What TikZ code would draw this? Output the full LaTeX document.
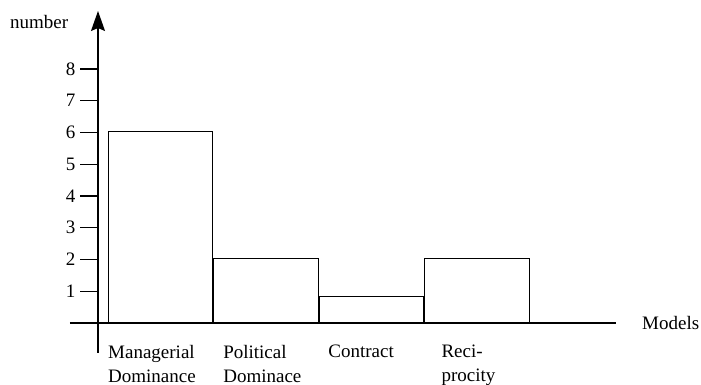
\documentclass[tikz,border=0pt]{standalone}
\usepackage{fontspec}
\setmainfont{Liberation Serif}
\usetikzlibrary{arrows.meta, positioning}
\tikzstyle{barra} = [draw, line width=1.1pt, rectangle, inner sep=0pt, anchor=south west, minimum width=104pt]
\tikzstyle{etiqueta} = [inner sep=0pt, align=left, anchor=north west, font=\fontsize{19}{24}\selectfont]
\tikzstyle{eje} = [line width=1.4pt]

\begin{document}
\begin{tikzpicture}[x=1pt, y=1pt]
	\useasboundingbox (-98,-62) rectangle (603,323);
	% ejes
	\coordinate (o) at (0,0);
	\coordinate (xini) at (-28,0);
	\coordinate (xfin) at (518,0);
	\coordinate (yini) at (0,-30);
	\coordinate (yfin) at (0,312);
	\draw[eje] (xini) -- (xfin);
	\draw[eje, -{Stealth[length=20pt, width=14pt, inset=3pt]}] (yini) -- (yfin);
	\foreach \n in {1,...,8}
		\draw[line width=1.1pt] (-18,\n*31.75) -- (0,\n*31.75) node[etiqueta, anchor=east, xshift=-22pt] (t\n) {\n};
	\node[etiqueta, anchor=west] (numero) at (-88,301) {number};
	\node[etiqueta, anchor=west] (modelos) at (544,0) {Models};
	% barras
	\node[barra, minimum height=6*31.75pt] (manag) at (10,0) {};
	\node[barra, minimum height=2*31.75pt, minimum width=105pt] (polit) at (manag.south east) {};
	\node[barra, minimum height=0.82*31.75pt] (contr) at (polit.south east) {};
	\node[barra, minimum height=2*31.75pt, minimum width=105pt] (recip) at (contr.south east) {};
	\node[etiqueta, below=22pt of manag.south west, anchor=north west] (lmanag) {Managerial\\Dominance};
	\node[etiqueta, below=22pt of polit.south west, anchor=north west, xshift=10pt] (lpolit) {Political\\Dominace};
	\node[etiqueta, below=22pt of contr.south west, anchor=north west, xshift=9pt] (lcontr) {Contract};
	\node[etiqueta, below=22pt of recip.south west, anchor=north west, xshift=17pt] (lrecip) {Reci-\\procity};
\end{tikzpicture}
\end{document}
